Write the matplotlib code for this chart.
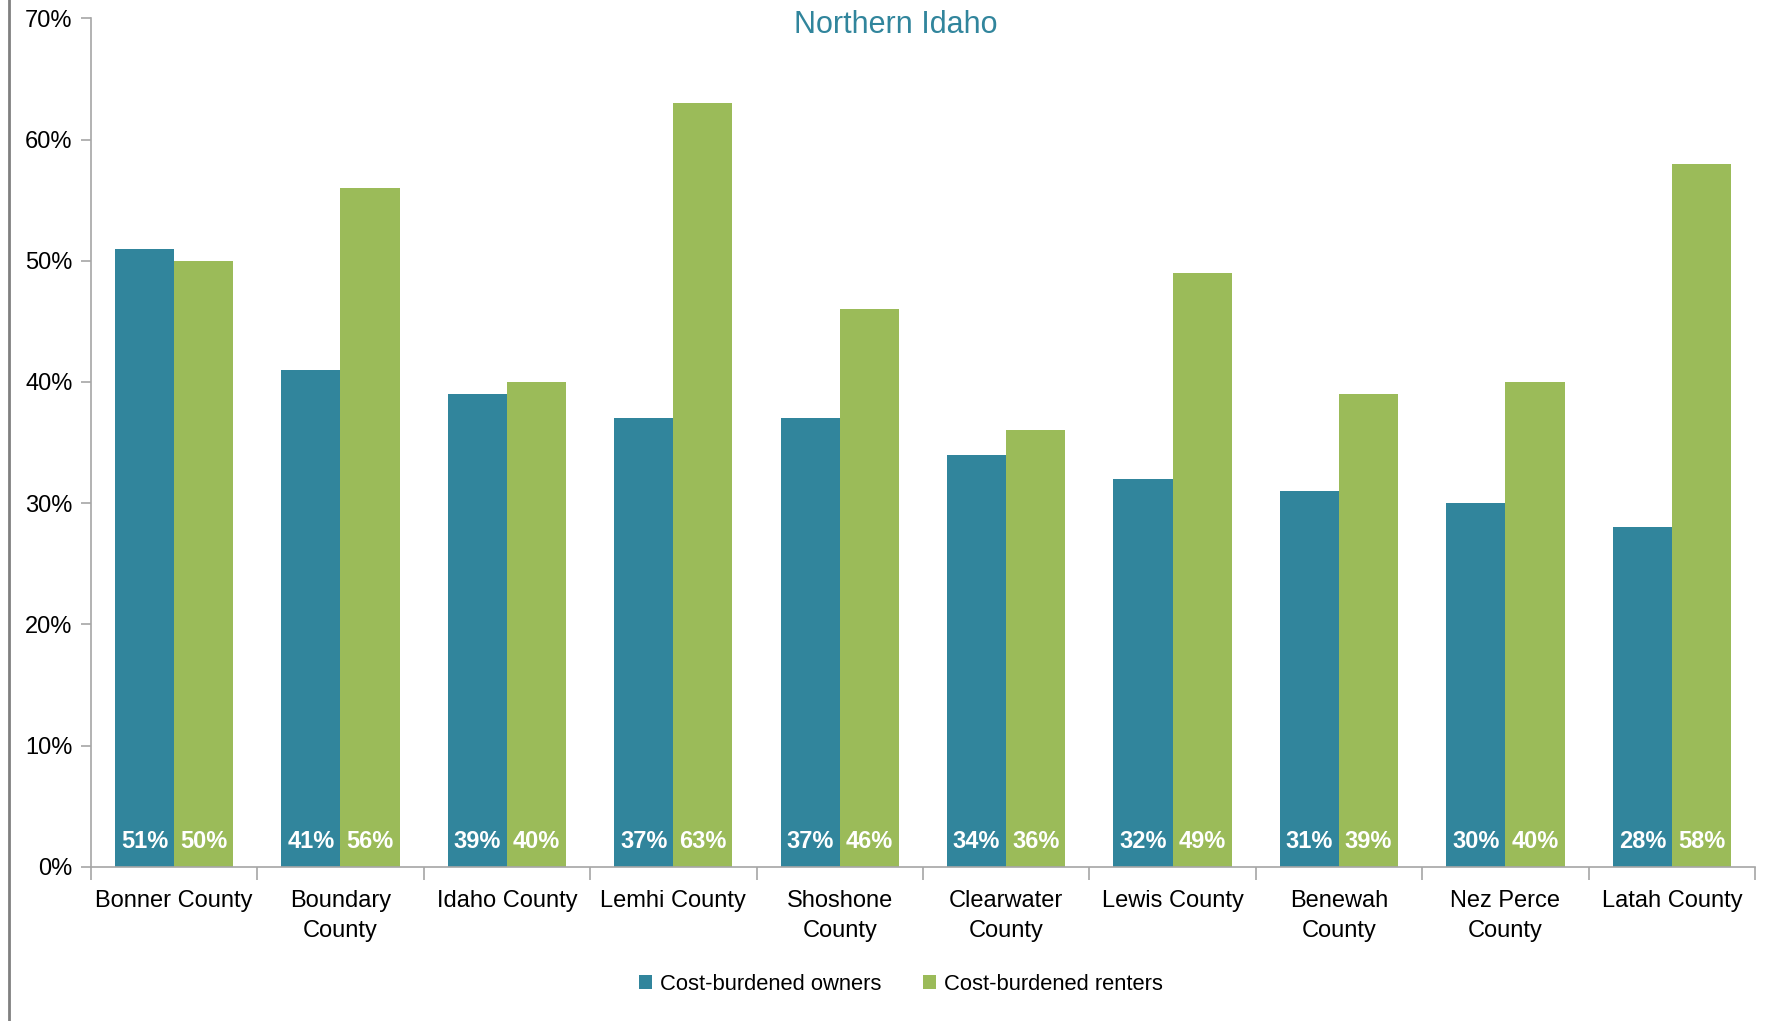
import numpy as np
import matplotlib
matplotlib.use("Agg")
import matplotlib.pyplot as plt
from matplotlib.lines import Line2D
from matplotlib import font_manager

counties = ["Bonner County", "Boundary\nCounty", "Idaho County", "Lemhi County",
            "Shoshone\nCounty", "Clearwater\nCounty", "Lewis County", "Benewah\nCounty",
            "Nez Perce\nCounty", "Latah County"]
owners = [51, 41, 39, 37, 37, 34, 32, 31, 30, 28]
renters = [50, 56, 40, 63, 46, 36, 49, 39, 40, 58]

teal = "#31859c"
green = "#9bbb59"
grey = "#a6a6a6"

names = {f.name for f in font_manager.fontManager.ttflist}
fam = "Liberation Sans Narrow" if "Liberation Sans Narrow" in names else "Liberation Sans"
plt.rcParams["font.family"] = [fam, "DejaVu Sans"]

fig = plt.figure(figsize=(17.8, 10.21), dpi=100)
ax = fig.add_axes([0.051, 0.151, 0.935, 0.831])

x = np.arange(len(counties))
w = 0.355
ax.bar(x - w / 2, owners, w, color=teal, label="Cost-burdened owners")
ax.bar(x + w / 2, renters, w, color=green, label="Cost-burdened renters")

for i in x:
    ax.text(i - w / 2, 2.1, f"{owners[i]}%", ha="center", va="center",
            color="white", fontsize=17, fontweight="bold")
    ax.text(i + w / 2, 2.1, f"{renters[i]}%", ha="center", va="center",
            color="white", fontsize=17, fontweight="bold")

ax.set_xlim(-0.5, len(counties) - 0.5)
ax.set_ylim(0, 70)
ax.set_yticks(range(0, 71, 10))
ax.set_yticklabels([f"{v}%" for v in range(0, 71, 10)])

ax.set_xticks(x)
ax.set_xticklabels(counties, linespacing=1.45)
ax.set_xticks(np.arange(-0.5, len(counties), 1), minor=True)
ax.tick_params(axis="x", which="major", length=0, labelsize=17, pad=17)
ax.tick_params(axis="x", which="minor", length=9, color=grey, width=1.2)
ax.tick_params(axis="y", length=7, color=grey, width=1.2, labelsize=17, pad=6)

for s in ["top", "right"]:
    ax.spines[s].set_visible(False)
for s in ["left", "bottom"]:
    ax.spines[s].set_color(grey)
    ax.spines[s].set_linewidth(1.2)

ax.legend(loc="center", bbox_to_anchor=(0.506, 0.036), bbox_transform=fig.transFigure,
          ncol=2, frameon=False, fontsize=15.8, handlelength=0.6, handleheight=0.6,
          handletextpad=0.35, columnspacing=1.9)

fig.text(0.503, 0.976, "Northern Idaho", ha="center", va="center",
         color=teal, fontsize=22)

fig.add_artist(Line2D([0.005, 0.005], [0, 1], transform=fig.transFigure,
                      color="#808080", linewidth=2))

fig.savefig("out.png", dpi=100)
